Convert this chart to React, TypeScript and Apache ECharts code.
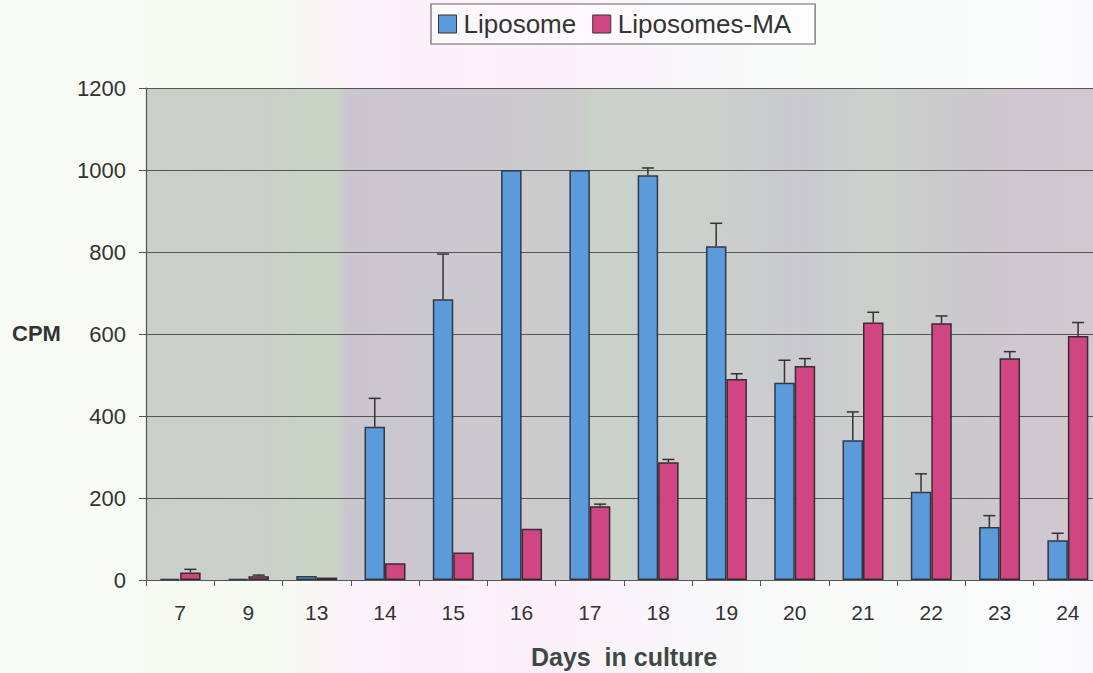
import React, { useEffect, useRef } from "react";
import * as echarts from "echarts";

const days = ["7", "9", "13", "14", "15", "16", "17", "18", "19", "20", "21", "22", "23", "24"];
const liposome = [3, 3, 10, 374, 685, 1000, 1000, 987, 814, 481, 341, 215, 129, 97];
const liposomeErr = [0, 0, 0, 69, 110, 0, 0, 18, 56, 55, 69, 44, 28, 17];
const liposomesMA = [18, 9, 6, 41, 67, 125, 180, 287, 490, 522, 628, 626, 541, 595];
const liposomesMAErr = [8, 3, 0, 0, 0, 0, 5, 7, 13, 18, 25, 18, 16, 33];
const yTicks = [0, 200, 400, 600, 800, 1000, 1200];

const BLUE = "#5b9bdc";
const PINK = "#cf4682";

function errorSeries(name: string, values: number[], errs: number[], side: number) {
  return {
    type: "custom",
    name: name + " err",
    silent: true,
    z: 5,
    data: values.map((v, i) => [i, v, errs[i]]),
    renderItem: (params: any, api: any) => {
      const idx = api.value(0);
      const v = api.value(1);
      const e = api.value(2);
      if (!e) return null;
      const band = api.size([1, 0])[0];
      const bw = (band * 0.6) / 2;
      const c = api.coord([idx, v]);
      const t = api.coord([idx, v + e]);
      const x = c[0] + side * (bw / 2);
      const cap = 6;
      return {
        type: "group",
        children: [
          { type: "line", shape: { x1: x, y1: c[1], x2: x, y2: t[1] }, style: { stroke: "#333", lineWidth: 1.5 } },
          { type: "line", shape: { x1: x - cap, y1: t[1], x2: x + cap, y2: t[1] }, style: { stroke: "#333", lineWidth: 1.5 } },
        ],
      };
    },
  };
}

export default function App() {
  const ref = useRef<HTMLDivElement>(null);
  useEffect(() => {
    document.body.style.margin = "0";
    const chart = echarts.init(ref.current!, null, { renderer: "svg" });
    const font = "Liberation Sans, Arial, sans-serif";
    chart.setOption({
      animation: false,
      textStyle: { fontFamily: font },
      legend: {
        left: 431,
        top: 4,
        width: 420,
        itemWidth: 18,
        itemHeight: 18,
        itemGap: 16,
        icon: "rect",
        borderColor: "#666",
        borderWidth: 1.2,
        padding: [7, 24, 7, 7],
        backgroundColor: "rgba(255,255,255,0.5)",
        data: [
          { name: "Liposome", itemStyle: { color: BLUE, borderColor: "#333", borderWidth: 1 } },
          { name: "Liposomes-MA", itemStyle: { color: PINK, borderColor: "#333", borderWidth: 1 } },
        ],
        textStyle: { fontSize: 26, color: "#333", fontFamily: font, padding: [0, 0, 0, 2] },
      },
      grid: {
        left: 146,
        top: 88,
        width: 956,
        height: 492,
        show: true,
        borderWidth: 0,
        outerBoundsMode: "none",
        containLabel: false,
        backgroundColor: new echarts.graphic.LinearGradient(0, 0, 1, 0, [
          { offset: 0, color: "#cbcfc8" },
          { offset: 0.13, color: "#cad0c7" },
          { offset: 0.2, color: "#c8d4c5" },
          { offset: 0.21, color: "#cbc5d0" },
          { offset: 0.32, color: "#ccc8cf" },
          { offset: 0.45, color: "#cccccc" },
          { offset: 0.47, color: "#c9d2c9" },
          { offset: 0.58, color: "#cdd0cc" },
          { offset: 0.68, color: "#cacacf" },
          { offset: 0.76, color: "#ccd0cc" },
          { offset: 0.87, color: "#cbc8cc" },
          { offset: 0.92, color: "#d0c8d0" },
          { offset: 1, color: "#d2c9d0" },
        ]),
      },
      xAxis: {
        type: "category",
        data: days,
        name: "Days  in culture",
        nameLocation: "middle",
        nameGap: 64,
        nameTextStyle: { fontSize: 25, fontWeight: "bold", color: "#3d4a44", fontFamily: font },
        axisLine: { lineStyle: { color: "#555", width: 1.2 } },
        axisTick: { show: true, length: 6, lineStyle: { color: "#555" } },
        axisLabel: { fontSize: 21, color: "#333", margin: 22, fontFamily: font },
      },
      yAxis: {
        type: "value",
        min: 0,
        max: 1200,
        interval: 200,
        axisLine: { show: true, lineStyle: { color: "#555", width: 1.2 } },
        axisTick: { show: true, length: 7, lineStyle: { color: "#555" } },
        axisLabel: {
          fontSize: 22,
          color: "#333",
          margin: 20,
          fontFamily: font,
          formatter: (v: number) => (yTicks.includes(v) ? String(v) : ""),
        },
        splitLine: { show: true, lineStyle: { color: "#555", width: 1 } },
      },
      graphic: [
        {
          type: "text",
          left: 12,
          top: 322,
          style: { text: "CPM", fontSize: 22, fontWeight: "bold", fill: "#333", fontFamily: font },
        },
      ],
      series: [
        {
          type: "bar",
          name: "Liposome",
          data: liposome,
          barGap: "0%",
          barCategoryGap: "40%",
          itemStyle: { color: BLUE, borderColor: "#2f3a44", borderWidth: 1.5 },
        },
        {
          type: "bar",
          name: "Liposomes-MA",
          data: liposomesMA,
          barGap: "0%",
          barCategoryGap: "40%",
          itemStyle: { color: PINK, borderColor: "#3a2a33", borderWidth: 1.5 },
        },
        errorSeries("Liposome", liposome, liposomeErr, -1),
        errorSeries("Liposomes-MA", liposomesMA, liposomesMAErr, 1),
      ],
    });
    return () => chart.dispose();
  }, []);
  return (
    <div
      ref={ref}
      style={{
        width: 1093,
        height: 673,
        background:
          "linear-gradient(90deg, #f8fbf4 0%, #f6fbf2 25%, #fcf2fb 33%, #fdf0fa 50%, #f9f7fb 62%, #f8fbf8 75%, #fafafc 100%)",
      }}
    />
  );
}
